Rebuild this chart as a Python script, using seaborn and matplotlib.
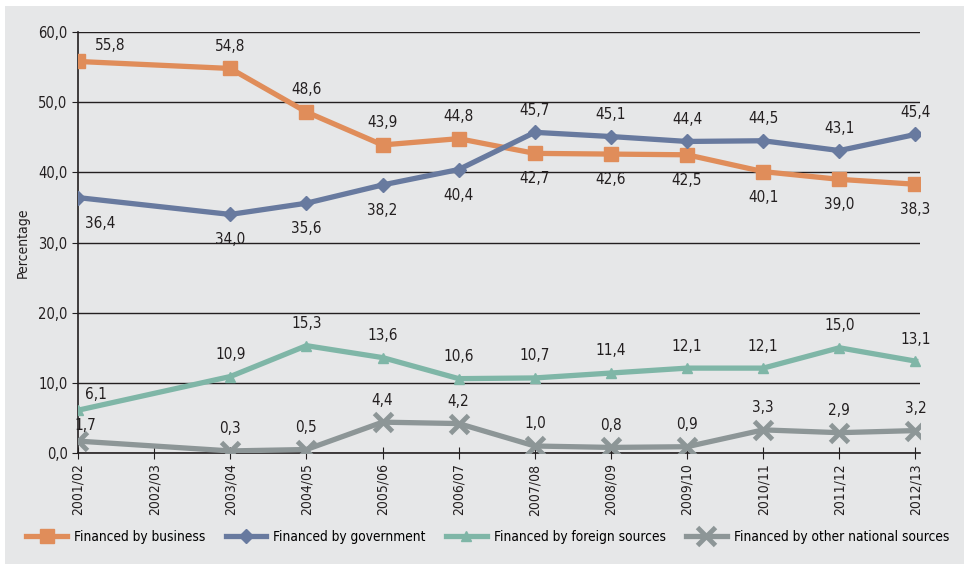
import numpy as np
import pandas as pd
import seaborn as sb
import matplotlib.pyplot as plt

years = ['2001/02', '2002/03', '2003/04', '2004/05', '2005/06', '2006/07',
         '2007/08', '2008/09', '2009/10', '2010/11', '2011/12', '2012/13']
business = [55.8, np.nan, 54.8, 48.6, 43.9, 44.8, 42.7, 42.6, 42.5, 40.1, 39.0, 38.3]
government = [36.4, np.nan, 34.0, 35.6, 38.2, 40.4, 45.7, 45.1, 44.4, 44.5, 43.1, 45.4]
foreign = [6.1, np.nan, 10.9, 15.3, 13.6, 10.6, 10.7, 11.4, 12.1, 12.1, 15.0, 13.1]
other = [1.7, np.nan, 0.3, 0.5, 4.4, 4.2, 1.0, 0.8, 0.9, 3.3, 2.9, 3.2]

# label above (+1) or below (-1) the point
business_pos = [1, 0, 1, 1, 1, 1, -1, -1, -1, -1, -1, -1]
government_pos = [-1, 0, -1, -1, -1, -1, 1, 1, 1, 1, 1, 1]
foreign_pos = [1] * 12
other_pos = [1] * 12

bg = '#e6e7e8'
plt.rcParams['font.family'] = ['DejaVu Sans']
plt.rcParams['font.stretch'] = 'condensed'

series = [
    ('Financed by business', business, business_pos, '#e08d5a', 's', 10, 1, 23),
    ('Financed by government', government, government_pos, '#687a9f', 'D', 7, 1, 16),
    ('Financed by foreign sources', foreign, foreign_pos, '#7fb6a7', '^', 7, 1, 13),
    ('Financed by other national sources', other, other_pos, '#8d9697', 'x', 13, 3.5, 5),
]

fig = plt.figure(figsize=(9.69, 5.67), dpi=100, facecolor='white')
fig.patches.append(plt.Rectangle((0.005, 0.005), 0.99, 0.985, transform=fig.transFigure,
                                 facecolor=bg, edgecolor='none', zorder=-10))
ax = fig.add_axes([0.0805, 0.201, 0.869, 0.7426])
ax.set_facecolor(bg)

for name, vals, pos, col, mk, ms, mew, first_dx in series:
    df = pd.DataFrame({'x': np.arange(len(years)), 'y': vals}).dropna()
    sb.lineplot(data=df, x='x', y='y', ax=ax, color=col, linewidth=3.8, marker=mk,
                markersize=ms, markeredgecolor=col, markeredgewidth=mew, label=name,
                zorder=3)
    for i, v in enumerate(vals):
        if np.isnan(v):
            continue
        dx = first_dx if i == 0 else 0
        dy = 10.5 if pos[i] > 0 else -13
        if i == 0 and pos[i] > 0:
            dy = 6
        ax.annotate(f'{v:.1f}'.replace('.', ','), (i, v), xytext=(dx, dy),
                    textcoords='offset points', ha='center',
                    va='bottom' if pos[i] > 0 else 'top', fontsize=11, color='#231f20')

ax.set_xlim(0, 11.06)
ax.set_ylim(0, 60)
ax.set_yticks(np.arange(0, 61, 10))
ax.set_yticklabels([f'{t:.1f}'.replace('.', ',') for t in np.arange(0, 61, 10)], fontsize=10.5)
ax.set_xticks(np.arange(len(years)))
ax.set_xticklabels(years, rotation=90, fontsize=10)
ax.grid(axis='y', color='#231f20', linewidth=1)
ax.grid(axis='x', visible=False)
ax.set_axisbelow(True)
for s in ['top', 'right']:
    ax.spines[s].set_visible(False)
for s in ['left', 'bottom']:
    ax.spines[s].set_color('#231f20')
    ax.spines[s].set_linewidth(1.2)
ax.tick_params(axis='x', direction='inout', length=8, color='#231f20', labelcolor='#231f20')
ax.tick_params(axis='y', direction='out', length=4, color='#231f20', labelcolor='#231f20')
ax.set_xlabel('')
ax.set_ylabel('Percentage', fontsize=10, color='#231f20')
ax.yaxis.set_label_coords(-0.057, 0.5)

handles, labels = ax.get_legend_handles_labels()
ax.get_legend().remove()
fig.legend(handles, labels, loc='center left', bbox_to_anchor=(0.027, 0.053), ncol=4,
           frameon=False, fontsize=9.8, handlelength=3.0, columnspacing=1.5,
           handletextpad=0.5, borderaxespad=0, borderpad=0)

plt.savefig('out.png', dpi=100, facecolor='white')
